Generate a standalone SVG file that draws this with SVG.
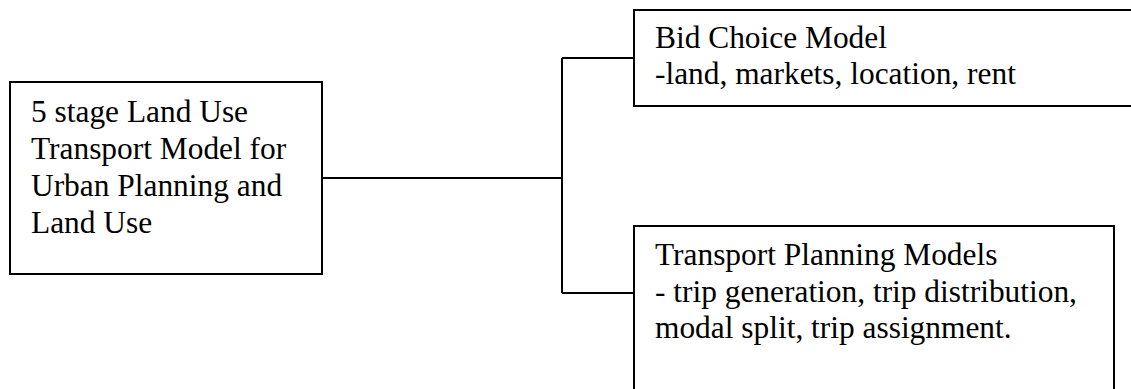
<svg xmlns="http://www.w3.org/2000/svg" width="1131" height="389" viewBox="0 0 1131 389">
<style>
.box{fill:#fff;stroke:#000;stroke-width:2}
.t{font-family:"Liberation Serif","Times New Roman",serif;font-size:31.4px;fill:#000}
.c{fill:none;stroke:#000;stroke-width:2}
</style>
<rect width="1131" height="389" fill="#fff"/>
<g id="connectors">
<path class="c" d="M322 178H562M562 58V293M562 58H634M562 293H634"/>
</g>
<g id="node-main">
<rect class="box" x="10" y="82" width="312" height="192"/>
<text class="t"><tspan x="31" y="122">5 stage Land Use</tspan><tspan x="31" y="159">Transport Model for</tspan><tspan x="31" y="196">Urban Planning and</tspan><tspan x="31" y="233">Land Use</tspan></text>
</g>
<g id="node-bid">
<rect class="box" x="634" y="10" width="510" height="96"/>
<text class="t"><tspan x="655" y="48">Bid Choice Model</tspan><tspan x="655" y="84">-land, markets, location, rent</tspan></text>
</g>
<g id="node-transport">
<rect class="box" x="634" y="226" width="480" height="180"/>
<text class="t"><tspan x="655" y="265">Transport Planning Models</tspan><tspan x="655" y="302">- trip generation, trip distribution,</tspan><tspan x="655" y="338">modal split, trip assignment.</tspan></text>
</g>
</svg>
